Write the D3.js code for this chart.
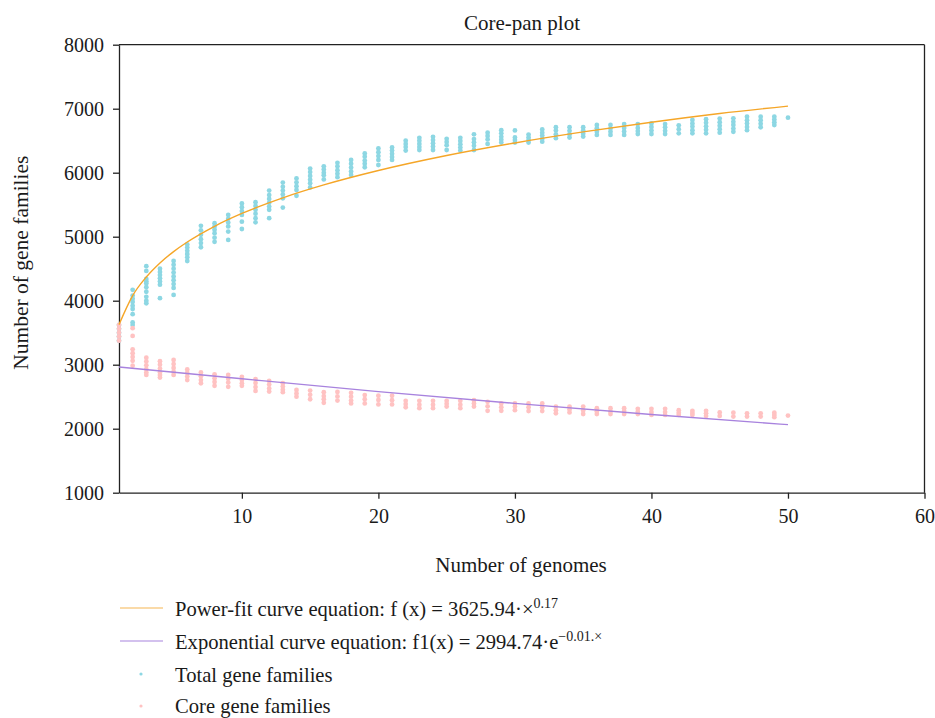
<!DOCTYPE html>
<html>
<head>
<meta charset="utf-8">
<script src="https://cdn.jsdelivr.net/npm/d3@7"></script>
<style>
  html, body { margin: 0; padding: 0; background: #fff; }
  svg { display: block; }
  text { font-family: "Liberation Serif", "DejaVu Serif", serif; fill: #1a1a1a; }
</style>
</head>
<body>
<svg id="chart" width="935" height="718"></svg>
<script>
// ---------- data ----------
const genomes = [1,2,3,4,5,6,7,8,9,10,11,12,13,14,15,16,17,18,19,20,21,22,23,24,25,
                 26,27,28,29,30,31,32,33,34,35,36,37,38,39,40,41,42,43,44,45,46,47,48,49,50];

const totalFamilies = [
  [3620, 3560, 3500, 3440, 3375],
  [4170, 4080, 4030, 3980, 3920, 3870, 3790, 3660, 3620],
  [4540, 4465, 4340, 4300, 4270, 4210, 4140, 4060, 4000, 3960],
  [4500, 4450, 4400, 4350, 4300, 4250, 4040],
  [4620, 4560, 4500, 4440, 4380, 4320, 4260, 4200, 4090],
  [4880, 4830, 4780, 4730, 4680, 4620],
  [5170, 5100, 5030, 4960, 4900, 4835],
  [5210, 5160, 5110, 5055, 4985, 4920],
  [5340, 5280, 5220, 5160, 5080, 4950],
  [5520, 5460, 5400, 5340, 5235, 5120],
  [5540, 5480, 5420, 5360, 5290, 5225],
  [5720, 5650, 5590, 5530, 5470, 5420, 5290],
  [5845, 5780, 5720, 5660, 5600, 5455],
  [5910, 5850, 5790, 5730, 5640],
  [6065, 6010, 5950, 5890, 5835, 5770],
  [6100, 6050, 6000, 5960, 5895],
  [6155, 6100, 6040, 5985, 5930],
  [6200, 6140, 6080, 6020, 5965],
  [6300, 6250, 6190, 6140, 6085],
  [6380, 6320, 6260, 6200, 6120],
  [6395, 6345, 6295, 6245, 6200],
  [6500, 6450, 6400, 6345],
  [6545, 6500, 6450, 6400, 6355],
  [6560, 6510, 6460, 6410, 6355],
  [6530, 6480, 6430, 6355],
  [6545, 6495, 6445, 6395, 6345],
  [6600, 6525, 6475, 6420, 6355],
  [6625, 6575, 6520, 6450],
  [6665, 6615, 6560, 6515, 6470],
  [6660, 6550, 6510, 6470],
  [6595, 6550, 6510, 6470],
  [6675, 6625, 6580, 6530, 6485],
  [6710, 6660, 6600, 6540],
  [6710, 6655, 6600, 6550],
  [6710, 6660, 6610, 6565],
  [6745, 6695, 6640, 6590],
  [6745, 6690, 6640, 6590],
  [6760, 6700, 6645, 6590],
  [6760, 6700, 6650, 6605],
  [6770, 6715, 6660, 6605],
  [6760, 6710, 6655, 6605],
  [6740, 6680, 6615],
  [6825, 6770, 6720, 6665, 6615],
  [6835, 6780, 6725, 6670, 6615],
  [6845, 6790, 6735, 6680, 6625],
  [6850, 6795, 6745, 6690, 6640],
  [6875, 6820, 6770, 6715, 6665],
  [6875, 6820, 6765, 6710],
  [6875, 6830, 6790, 6745],
  [6860]
];

const coreFamilies = [
  [3620, 3560, 3500, 3440, 3375],
  [3570, 3450, 3240, 3180, 3120, 3060, 2985],
  [3110, 3050, 2990, 2930, 2880, 2840],
  [3055, 3000, 2940, 2880, 2840, 2800],
  [3075, 3010, 2950, 2890, 2840],
  [2925, 2870, 2815, 2760],
  [2880, 2820, 2760, 2710],
  [2850, 2790, 2730, 2670],
  [2840, 2780, 2720, 2655],
  [2810, 2760, 2710, 2670],
  [2775, 2715, 2650, 2590],
  [2745, 2690, 2630, 2580],
  [2710, 2660, 2610, 2570],
  [2605, 2550, 2500],
  [2595, 2530, 2460],
  [2570, 2510, 2460, 2405],
  [2575, 2505, 2440],
  [2560, 2500, 2440, 2395],
  [2525, 2460, 2395],
  [2515, 2450, 2380],
  [2515, 2445, 2380],
  [2435, 2385, 2335],
  [2435, 2375, 2320],
  [2435, 2375, 2320],
  [2435, 2390, 2345],
  [2435, 2375, 2320],
  [2445, 2395, 2345],
  [2420, 2350, 2280],
  [2395, 2335, 2280],
  [2395, 2345, 2290],
  [2395, 2335, 2275],
  [2395, 2335, 2275],
  [2345, 2290, 2240],
  [2345, 2300, 2255],
  [2345, 2285, 2230],
  [2320, 2270, 2230],
  [2320, 2270, 2230],
  [2320, 2275, 2230],
  [2310, 2265, 2230],
  [2310, 2260, 2215],
  [2310, 2260, 2215],
  [2290, 2250, 2215],
  [2280, 2245, 2215],
  [2280, 2240, 2200],
  [2255, 2200],
  [2250, 2190],
  [2240, 2190],
  [2240, 2190],
  [2250, 2215, 2180],
  [2205]
];

// fitted curves
const powerFitX = [1, 2, 3, 4, 5, 6, 8, 10, 13, 16, 20, 25, 30, 35, 40, 45, 50];
const powerFitY = [3626, 4080, 4370, 4590, 4767, 4917, 5163, 5363, 5608, 5809, 6034, 6268, 6465, 6637, 6789, 6926, 7040];
const expFitX = [1, 10, 20, 30, 40, 50];
const expFitY = [2965, 2780, 2580, 2395, 2223, 2063];

const xTicks = [10, 20, 30, 40, 50, 60];
const yTicks = [1000, 2000, 3000, 4000, 5000, 6000, 7000, 8000];

const titleText = "Core-pan plot";
const xLabel = "Number of genomes";
const yLabel = "Number of gene families";

// ---------- drawing ----------
const colTotal = "#8dd7e3";
const colCore = "#ffc2c2";
const colPower = "#f5a628";
const colExp = "#a883de";
const serif = '"Liberation Serif", "DejaVu Serif", serif';

const svg = d3.select("#chart");
const pLeft = 119, pRight = 924.5, pTop = 44.7, pBottom = 492.7;

const x = d3.scaleLinear().domain([1, 60]).range([pLeft, pRight]);
const y = d3.scaleLinear().domain([1000, 8000]).range([pBottom, pTop]);

// title
svg.append("text").attr("x", 522).attr("y", 30)
  .attr("text-anchor", "middle").style("font-size", "21px").text(titleText);

// frame (top + right)
svg.append("line").attr("x1", pLeft).attr("x2", pRight).attr("y1", pTop).attr("y2", pTop)
  .attr("stroke", "#222").attr("stroke-width", 1.3);
svg.append("line").attr("x1", pRight).attr("x2", pRight).attr("y1", pTop).attr("y2", pBottom)
  .attr("stroke", "#222").attr("stroke-width", 1.3);

// axes
const xAxis = svg.append("g").attr("transform", `translate(0,${pBottom})`)
  .call(d3.axisBottom(x).tickValues(xTicks).tickSize(6).tickSizeOuter(0).tickPadding(10));
const yAxis = svg.append("g").attr("transform", `translate(${pLeft},0)`)
  .call(d3.axisLeft(y).tickValues(yTicks).tickFormat(d3.format("d")).tickSize(6).tickSizeOuter(0).tickPadding(9));
[xAxis, yAxis].forEach(g => {
  g.selectAll("path.domain").attr("stroke", "#222").attr("stroke-width", 1.3);
  g.selectAll(".tick line").attr("stroke", "#222").attr("stroke-width", 1.3);
  g.selectAll(".tick text").style("font-size", "20px")
    .style("font-family", serif).attr("fill", "#1a1a1a");
});

// axis labels
svg.append("text").attr("x", 521).attr("y", 572)
  .attr("text-anchor", "middle").style("font-size", "21px").text(xLabel);
svg.append("text").attr("transform", `translate(28,${(pTop + pBottom) / 2 - 6}) rotate(-90)`)
  .attr("text-anchor", "middle").style("font-size", "21.5px").text(yLabel);

// points
const flat = (arr) => arr.flatMap((vals, i) => vals.map(v => ({ g: genomes[i], v })));
svg.append("g").selectAll("circle").data(flat(totalFamilies)).join("circle")
  .attr("cx", d => x(d.g)).attr("cy", d => y(d.v)).attr("r", 2.4).attr("fill", colTotal);
svg.append("g").selectAll("circle").data(flat(coreFamilies)).join("circle")
  .attr("cx", d => x(d.g)).attr("cy", d => y(d.v)).attr("r", 2.4).attr("fill", colCore);

// fitted lines
const line = d3.line().x(d => x(d[0])).y(d => y(d[1])).curve(d3.curveMonotoneX);
svg.append("path").datum(powerFitX.map((g, i) => [g, powerFitY[i]]))
  .attr("d", line).attr("fill", "none").attr("stroke", colPower).attr("stroke-width", 1.4);
svg.append("path").datum(expFitX.map((g, i) => [g, expFitY[i]]))
  .attr("d", line).attr("fill", "none").attr("stroke", colExp).attr("stroke-width", 1.4);

// legend
const lg = svg.append("g");
const rows = [608, 641, 674, 706];
lg.append("line").attr("x1", 120).attr("x2", 163).attr("y1", rows[0]).attr("y2", rows[0])
  .attr("stroke", colPower).attr("stroke-width", 1.2).attr("opacity", 0.8);
lg.append("line").attr("x1", 120).attr("x2", 163).attr("y1", rows[1]).attr("y2", rows[1])
  .attr("stroke", colExp).attr("stroke-width", 1.2);
lg.append("circle").attr("cx", 141).attr("cy", rows[2]).attr("r", 1.6).attr("fill", colTotal);
lg.append("circle").attr("cx", 141).attr("cy", rows[3]).attr("r", 1.6).attr("fill", colCore);

const fs = "20.6px";
const t1 = lg.append("text").attr("x", 175).attr("y", rows[0] + 8).style("font-size", fs);
t1.append("tspan").text("Power-fit curve equation: f (x) = 3625.94·×");
t1.append("tspan").attr("dy", -8).style("font-size", "14px").text("0.17");
const t2 = lg.append("text").attr("x", 175).attr("y", rows[1] + 8).style("font-size", fs);
t2.append("tspan").text("Exponential curve equation: f1(x) = 2994.74·e");
t2.append("tspan").attr("dy", -8).style("font-size", "14px").text("−0.01.×");
lg.append("text").attr("x", 175).attr("y", rows[2] + 8).style("font-size", fs).text("Total gene families");
lg.append("text").attr("x", 175).attr("y", rows[3] + 7).style("font-size", fs).text("Core gene families");
</script>
</body>
</html>
